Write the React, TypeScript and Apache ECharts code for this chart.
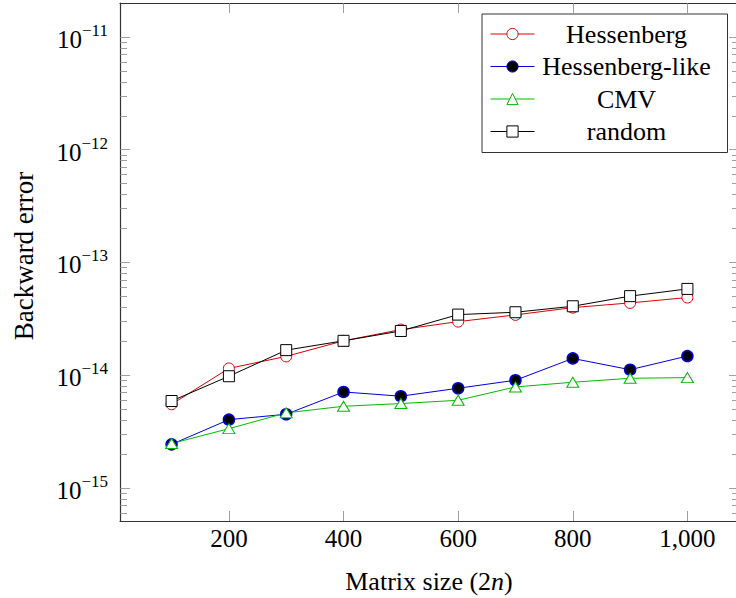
import React, { useEffect, useRef } from 'react';
import * as echarts from 'echarts';

const sizes = [100, 200, 300, 400, 500, 600, 700, 800, 900, 1000];
const hessenberg = [5.53e-15, 1.15e-14, 1.47e-14, 2.02e-14, 2.54e-14, 2.99e-14, 3.43e-14, 3.98e-14, 4.38e-14, 4.89e-14];
const hessenbergLike = [2.44e-15, 4.04e-15, 4.51e-15, 7.11e-15, 6.52e-15, 7.67e-15, 9.03e-15, 1.41e-14, 1.12e-14, 1.48e-14];
const cmv = [2.48e-15, 3.36e-15, 4.64e-15, 5.31e-15, 5.61e-15, 6.0e-15, 7.88e-15, 8.67e-15, 9.4e-15, 9.53e-15];
const random = [5.91e-15, 9.8e-15, 1.67e-14, 2.02e-14, 2.47e-14, 3.45e-14, 3.62e-14, 4.09e-14, 5.03e-14, 5.83e-14];
const seriesNames = ['Hessenberg', 'Hessenberg-like', 'CMV', 'random'];
const xTicks = [200, 400, 600, 800, 1000];
const yExponents = [-15, -14, -13, -12, -11];
const X_MIN = 10;
const X_MAX = 1090;
const Y_MIN = 5.1e-16;
const Y_MAX = 2.0e-11;

const FONT = 'Liberation Serif';
const RED = '#dd0000';
const BLUE = '#0000dd';
const GREEN = '#00bb00';
const BLACK = '#000000';
const TICK = '#888888';

const lmin = Math.log10(Y_MIN);
const lmax = Math.log10(Y_MAX);
const minorTicks: number[] = [];
for (let e = -16; e <= -11; e++) {
  for (let k = 2; k <= 9; k++) {
    const v = Math.log10(k) + e;
    if (v > lmin && v < lmax) minorTicks.push(v);
  }
}

const toPts = (vals: number[]) => sizes.map((x, i) => [x, Math.log10(vals[i])]);

export default function App() {
  const ref = useRef<HTMLDivElement>(null);
  useEffect(() => {
    if (!ref.current) return;
    const chart = echarts.init(ref.current, null, { renderer: 'svg' });
    const yBase = (position: 'left' | 'right', ticks: number[], len: number, showLine: boolean, labels: boolean) => ({
      type: 'value',
      position,
      min: lmin,
      max: lmax,
      axisLine: { show: showLine, lineStyle: { color: '#333', width: 1.2 } },
      splitLine: { show: false },
      axisTick: { show: true, inside: true, length: len, customValues: ticks, lineStyle: { color: TICK, width: 0.8 } },
      axisLabel: labels
        ? {
            show: true,
            customValues: yExponents,
            margin: 12,
            formatter: (v: number) => `{b|10}{s|\u2212${Math.abs(Math.round(v))}}`,
            rich: {
              b: { fontSize: 25, fontFamily: FONT, color: '#000', verticalAlign: 'bottom', lineHeight: 30 },
              s: { fontSize: 17, fontFamily: FONT, color: '#000', verticalAlign: 'top', lineHeight: 18 },
            },
          }
        : { show: false },
    });
    const xBase = (position: 'bottom' | 'top', labels: boolean) => ({
      type: 'value',
      position,
      min: X_MIN,
      max: X_MAX,
      axisLine: { show: true, lineStyle: { color: '#333', width: 1.2 } },
      splitLine: { show: false },
      axisTick: { show: true, inside: true, length: 10, customValues: xTicks, lineStyle: { color: TICK, width: 0.8 } },
      axisLabel: labels
        ? {
            show: true,
            customValues: xTicks,
            margin: 5,
            fontSize: 25,
            fontFamily: FONT,
            color: '#000',
            formatter: (v: number) => Math.round(v).toLocaleString('en-US'),
          }
        : { show: false },
    });
    const mk = (name: string, vals: number[], color: string, symbol: string, size: any, fill: string, bw: number) => ({
      name,
      type: 'line',
      xAxisIndex: 0,
      yAxisIndex: 0,
      data: toPts(vals),
      symbol,
      symbolSize: size,
      showSymbol: true,
      lineStyle: { color, width: 1 },
      itemStyle: { color: fill, borderColor: color, borderWidth: bw },
      emphasis: { disabled: true },
    });
    chart.setOption({
      animation: false,
      backgroundColor: '#fff',
      grid: { left: 120, top: 3, width: 619, height: 518, containLabel: false, outerBoundsMode: 'none' },
      xAxis: [xBase('bottom', true), xBase('top', false)],
      yAxis: [
        yBase('left', yExponents, 10, true, true),
        yBase('left', minorTicks, 7, false, false),
        yBase('right', yExponents, 10, true, false),
        yBase('right', minorTicks, 7, false, false),
      ],
      legend: {
        orient: 'vertical',
        left: 482,
        top: 14,
        padding: [7, 14, 8, 8],
        itemWidth: 44,
        itemHeight: 14,
        itemGap: 6.5,
        borderColor: '#333',
        borderWidth: 1,
        backgroundColor: '#fff',
        selectedMode: false,
        data: seriesNames,
        itemStyle: { borderWidth: 1 },
        lineStyle: { width: 1 },
        formatter: (name: string) => `{c|${name}}`,
        textStyle: {
          fontFamily: FONT,
          fontSize: 26,
          color: '#000',
          rich: { c: { width: 174, align: 'center', fontSize: 26, fontFamily: FONT, lineHeight: 26, color: '#000' } },
        },
      },
      series: [
        mk(seriesNames[0], hessenberg, RED, 'circle', 11, '#ffffff', 1),
        mk(seriesNames[1], hessenbergLike, BLUE, 'circle', 11, '#000000', 1.5),
        mk(seriesNames[2], cmv, GREEN, 'triangle', [12, 10], '#ffffff', 1),
        mk(seriesNames[3], random, BLACK, 'rect', 11, '#ffffff', 1),
      ],
      graphic: [
        {
          type: 'text',
          x: 429,
          y: 581,
          style: {
            text: '{r|Matrix size (2}{i|n}{r|)}',
            rich: {
              r: { fontSize: 26, fontFamily: FONT, fill: '#000' },
              i: { fontSize: 26, fontFamily: FONT, fontStyle: 'italic', fill: '#000' },
            },
            align: 'center',
            verticalAlign: 'middle',
            fill: '#000',
          },
        },
        {
          type: 'text',
          x: 24,
          y: 256,
          rotation: Math.PI / 2,
          style: {
            text: 'Backward error',
            fontSize: 27,
            fontFamily: FONT,
            align: 'center',
            verticalAlign: 'middle',
            fill: '#000',
          },
        },
      ],
    });
    return () => chart.dispose();
  }, []);
  return (
    <div
      ref={ref}
      style={{ position: 'absolute', left: 0, top: 0, width: 736, height: 598, overflow: 'hidden', background: '#fff' }}
    />
  );
}
